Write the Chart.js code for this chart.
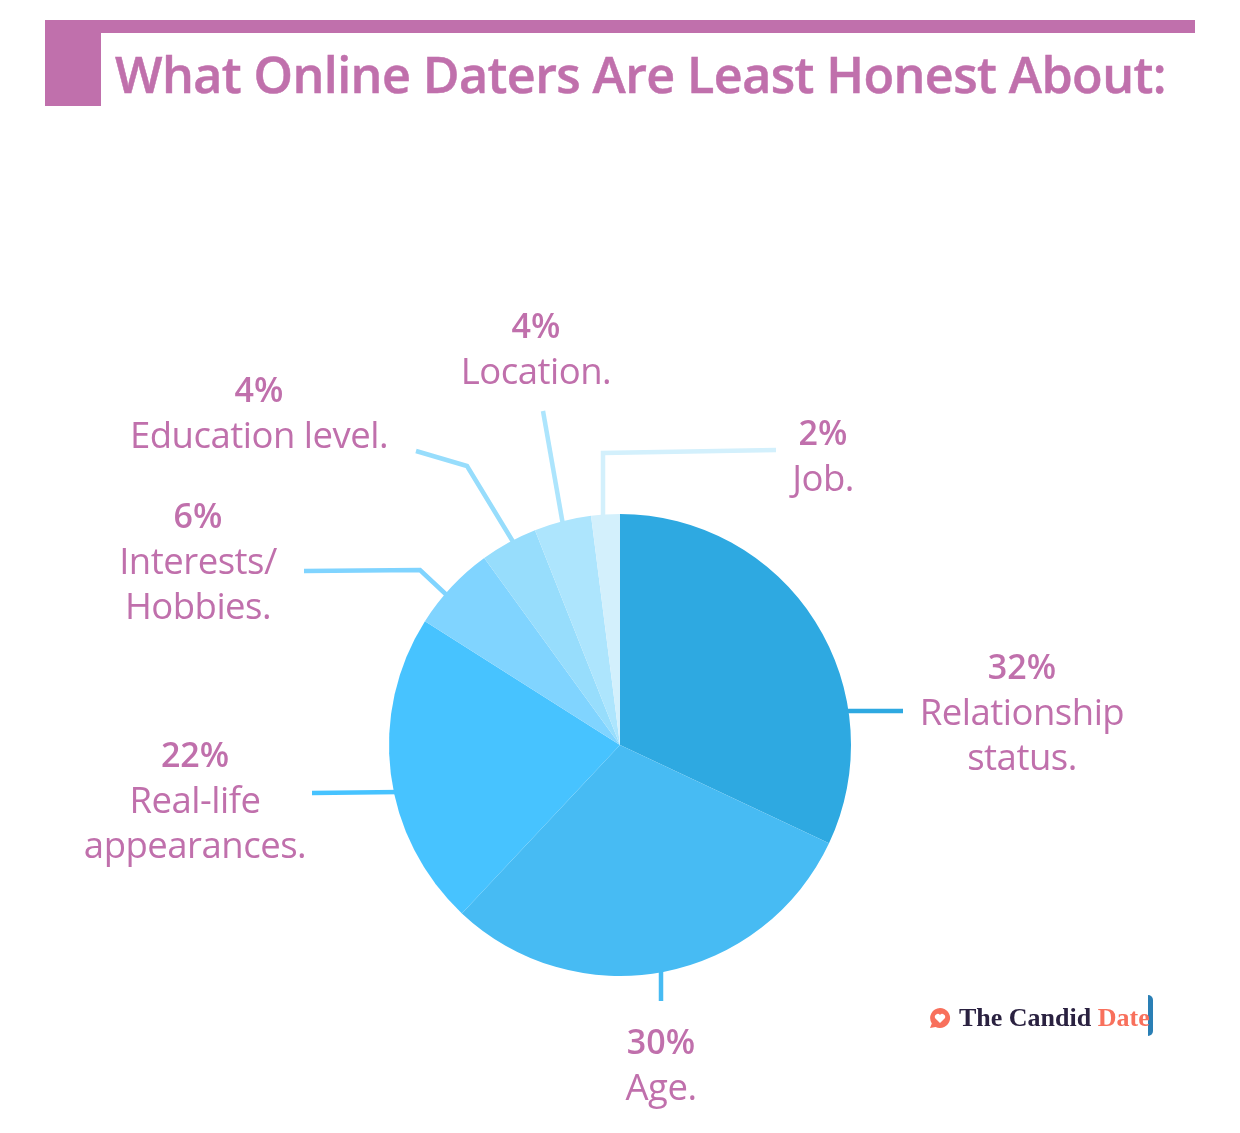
<!DOCTYPE html>
<html lang="en">
<head>
<meta charset="UTF-8">
<title>What Online Daters Are Least Honest About</title>
<script src="https://cdnjs.cloudflare.com/ajax/libs/Chart.js/4.4.1/chart.umd.min.js"></script>
<style>
    body { margin: 0; background: #fff; font-family: 'Open Sans', sans-serif; color: #c070ac; }
    #page { position: relative; width: 1240px; height: 1133px; overflow: hidden; }
    #pie { position: absolute; left: 0; top: 0; }
    .bar { position: absolute; background: #c070ac; }
    h1 { position: absolute; left: 115px; top: 40px; margin: 0; font-size: 51px; line-height: 66px; font-weight: 600; white-space: nowrap; letter-spacing: -0.6px; -webkit-text-stroke: 0.5px #c070ac; transform: scaleX(0.985); transform-origin: left center; }
    .lab { position: absolute; transform: translate(-50%, -50%); white-space: nowrap; font-size: 36.500px; line-height: 45px; text-align: center; letter-spacing: -0.5px; }
    .lab b { font-weight: 600; font-size: 34px; letter-spacing: 0; }
    #logo { position: absolute; left: 959px; top: 1003px; font: bold 26px 'Liberation Serif', serif; color: #2a2140; white-space: nowrap; }
    #logo span { color: #f8705c; }
</style>
</head>
<body>
<div id="page">
    <canvas id="pie" width="1240" height="1133"></canvas>
    <div class="bar" style="left:45px;top:20px;width:1150px;height:13px"></div>
    <div class="bar" style="left:45px;top:20px;width:56px;height:86px"></div>
    <h1>What Online Daters Are Least Honest About:</h1>
    <div class="bar" style="left:1148px;top:995px;width:5px;height:41px;background:#2a7fb5;border-radius:0 5px 5px 0"></div>
    <svg style="position:absolute;left:929px;top:1007px" width="22" height="22" viewBox="0 0 22 22">
        <path d="M11 1a10 10 0 1 1-4.500 18.900L1 21l1.800-4.600A10 10 0 0 1 11 1z" fill="#f8705c"/>
        <path d="M11 16l-4.800-4.800a2.900 2.900 0 0 1 4.800-3.200 2.900 2.900 0 0 1 4.800 3.200z" fill="#fff"/>
    </svg>
    <div id="logo">The Candid <span>Date</span></div>
</div>
<script>
const categories = ['Relationship status.', 'Age.', 'Real-life appearances.', 'Interests/ Hobbies.', 'Education level.', 'Location.', 'Job.'];
const shares = [32, 30, 22, 6, 4, 4, 2];
const sliceColors = ['#2ea9e1', '#47bbf3', '#47c3ff', '#80d4ff', '#97ddfc', '#ade5fd', '#d3f0fc'];

// label text is broken over lines like the original
const labelLines = [['Relationship', 'status.'], ['Age.'], ['Real-life', 'appearances.'], ['Interests/', 'Hobbies.'], ['Education level.'], ['Location.'], ['Job.']];
const labelCenters = [[1022, 711], [661, 1063], [195, 799], [198, 560], [259, 411], [536, 347], [823, 454]];

// leader lines, offsets from the pie centre
const leaders = [
    [[220, -34], [283, -34]],
    [[41, 220], [41, 256]],
    [[-220, 47], [-308, 48]],
    [[-168, -145], [-200, -175], [-316, -174]],
    [[-105, -200], [-153, -279], [-204, -294]],
    [[-57, -220], [-77, -334]],
    [[-17, -225], [-17, -292], [156, -295]]
];

const leaderPlugin = {
    id: 'leaders',
    beforeDatasetsDraw(chart) {
        const arcs = chart.getDatasetMeta(0).data;
        const ctx = chart.ctx;
        ctx.save();
        ctx.lineWidth = 4.5;
        ctx.lineJoin = 'miter';
        leaders.forEach((pts, i) => {
            ctx.strokeStyle = sliceColors[i];
            ctx.beginPath();
            pts.forEach((p, j) => {
                const x = arcs[i].x + p[0], y = arcs[i].y + p[1];
                if (j === 0) ctx.moveTo(x, y); else ctx.lineTo(x, y);
            });
            ctx.stroke();
        });
        ctx.restore();
    }
};

new Chart(document.getElementById('pie'), {
    type: 'pie',
    data: {
        labels: categories,
        datasets: [{ data: shares, backgroundColor: sliceColors, borderWidth: 0 }]
    },
    options: {
        responsive: false,
        animation: false,
        layout: { padding: { left: 389, right: 389, top: 514, bottom: 157 } },
        plugins: { legend: { display: false }, tooltip: { enabled: false } }
    },
    plugins: [leaderPlugin]
});

const page = document.getElementById('page');
categories.forEach((c, i) => {
    const d = document.createElement('div');
    d.className = 'lab';
    d.style.left = labelCenters[i][0] + 'px';
    d.style.top = labelCenters[i][1] + 'px';
    d.innerHTML = '<b>' + shares[i] + '%</b><br>' + labelLines[i].join('<br>');
    page.appendChild(d);
});
</script>
</body>
</html>
